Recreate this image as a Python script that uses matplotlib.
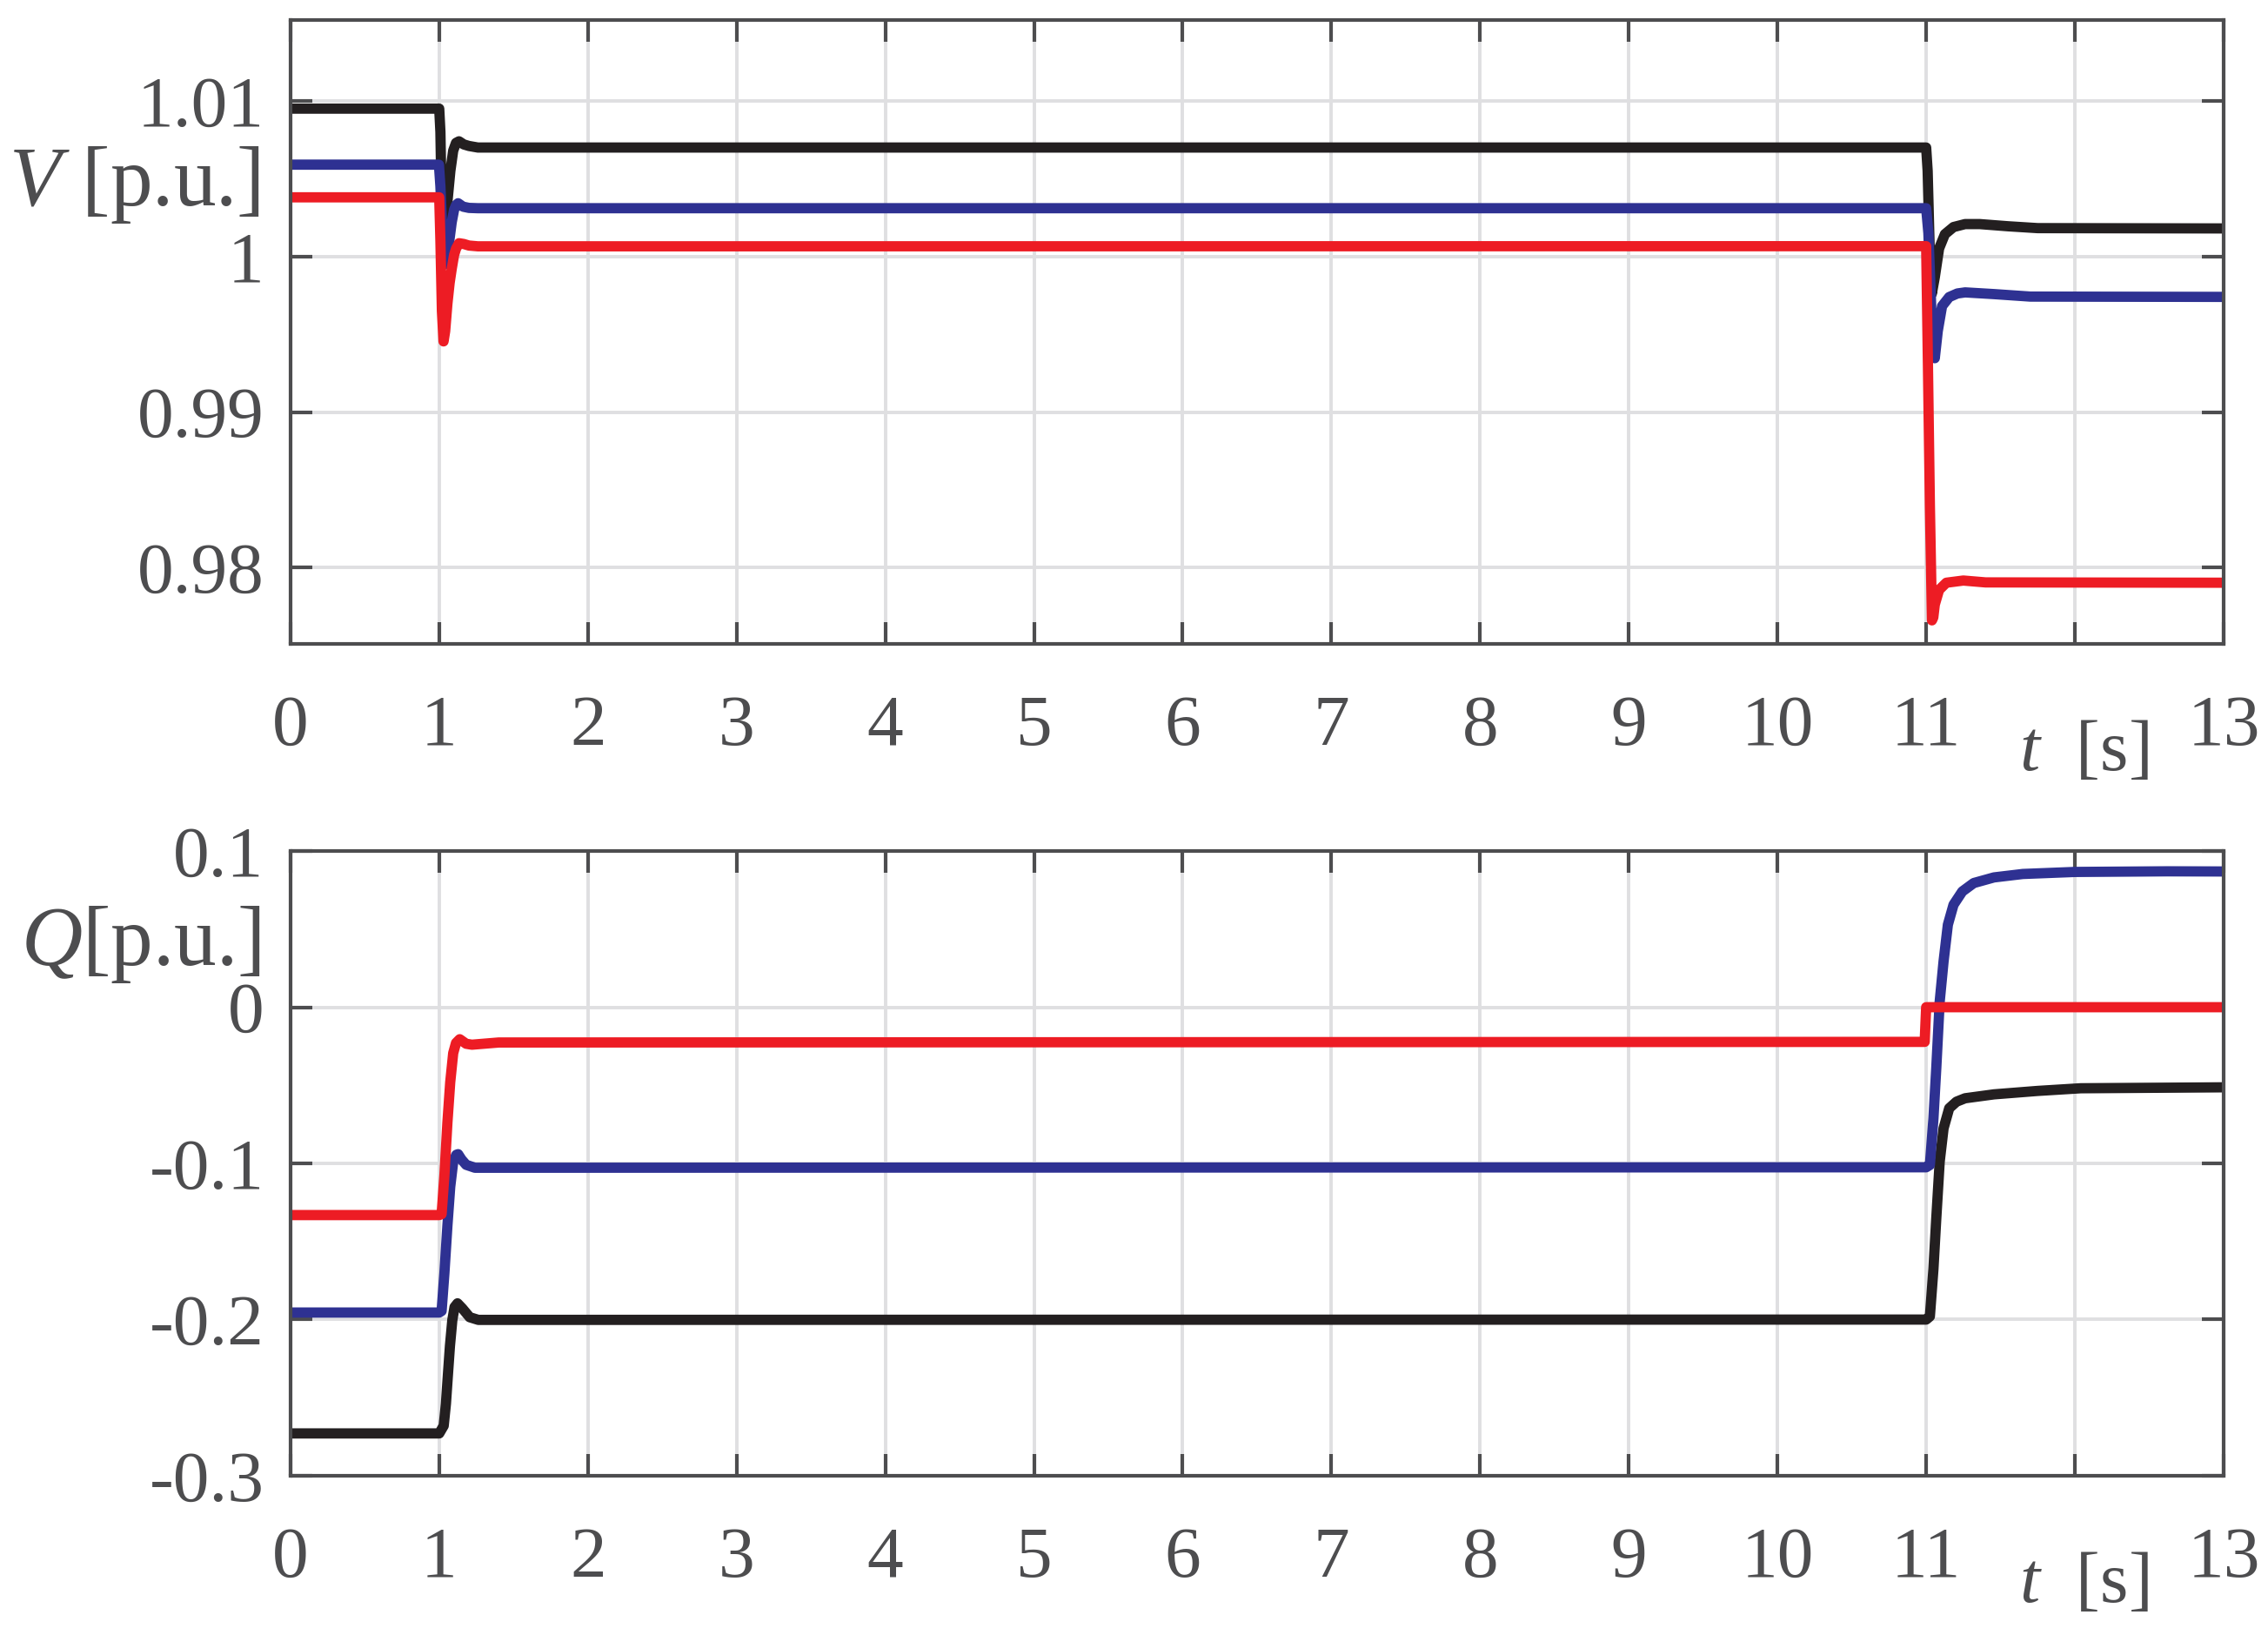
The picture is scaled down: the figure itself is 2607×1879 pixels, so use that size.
import matplotlib
matplotlib.use("Agg")
import matplotlib.pyplot as plt

plt.rcParams['font.family'] = ['Liberation Serif', 'DejaVu Serif']
plt.rcParams['mathtext.fontset'] = 'custom'
plt.rcParams['mathtext.rm'] = 'Liberation Serif'
plt.rcParams['mathtext.it'] = 'Liberation Serif:italic'
plt.rcParams['axes.unicode_minus'] = False

# Voltage traces
t_v_black = [0, 1.0, 1.008, 1.016, 1.024, 1.035, 1.055, 1.075, 1.094, 1.113, 1.133,
             1.165, 1.2, 1.26, 11.0, 11.01, 11.025, 11.038, 11.058, 11.087, 11.126,
             11.184, 11.262, 11.36, 11.55, 11.75, 13]
v_black = [1.0095, 1.0095, 1.0080, 1.0035, 1.0004, 1.0012, 1.0035, 1.0055, 1.0068,
           1.0073, 1.0074, 1.0072, 1.0071, 1.0070, 1.0070, 1.0055, 1.0000, 0.9976,
           0.99866, 1.00051, 1.00143, 1.00189, 1.00208, 1.00208, 1.00194, 1.00182, 1.0018]

t_v_blue = [0, 0.998, 1.008, 1.02, 1.035, 1.048, 1.065, 1.084, 1.10, 1.113, 1.127,
            1.16, 1.2, 1.26, 11.0, 11.015, 11.035, 11.058, 11.078, 11.107, 11.155,
            11.21, 11.262, 11.456, 11.7, 13]
v_blue = [1.0059, 1.0059, 1.0045, 1.0018, 0.9999, 0.9995, 1.0008, 1.0022, 1.0030,
          1.0033, 1.00342, 1.0032, 1.00312, 1.0031, 1.0031, 1.0015, 0.9965, 0.99346,
          0.9952, 0.99681, 0.99739, 0.99762, 0.99769, 0.99758, 0.99742, 0.9974]

t_v_red = [0, 1.0, 1.008, 1.018, 1.029, 1.04, 1.055, 1.07, 1.084, 1.10, 1.113, 1.133,
           1.165, 1.2, 1.26, 11.0, 11.012, 11.025, 11.039, 11.048, 11.058, 11.087,
           11.136, 11.25, 11.4, 13]
v_red = [1.0038, 1.0038, 1.0010, 0.9965, 0.99454, 0.9952, 0.99696, 0.9983, 0.9992,
         1.0001, 1.0005, 1.00085, 1.0008, 1.0007, 1.00065, 1.00066, 0.9930, 0.9840,
         0.97661, 0.9768, 0.97762, 0.97857, 0.97903, 0.97917, 0.97905, 0.97903]

# Reactive power traces
t_q_black = [0, 1.0, 1.03, 1.045, 1.058, 1.072, 1.088, 1.103, 1.123, 1.156, 1.205,
             1.263, 11.0, 11.025, 11.049, 11.068, 11.091, 11.117, 11.155, 11.204,
             11.262, 11.456, 11.75, 12.04, 13]
q_black = [-0.2729, -0.2729, -0.268, -0.254, -0.236, -0.217, -0.2004, -0.192, -0.1896,
           -0.1929, -0.1985, -0.2002, -0.2000, -0.198, -0.1675, -0.1353, -0.0989,
           -0.0776, -0.0647, -0.0605, -0.0583, -0.0558, -0.0536, -0.0519, -0.0513]

t_q_blue = [0, 1.0, 1.016, 1.035, 1.055, 1.074, 1.094, 1.115, 1.127, 1.15, 1.181,
            1.24, 11.0, 11.025, 11.049, 11.068, 11.091, 11.117, 11.146, 11.184,
            11.243, 11.32, 11.456, 11.65, 12.0, 12.62, 13]
q_blue = [-0.1955, -0.1955, -0.1945, -0.170, -0.140, -0.115, -0.099, -0.0945, -0.0941,
          -0.0975, -0.1009, -0.1028, -0.1025, -0.101, -0.0712, -0.0391, 0.0036, 0.0293,
          0.0528, 0.0656, 0.0741, 0.0795, 0.0831, 0.0853, 0.0866, 0.0870, 0.0869]

t_q_red = [0, 1.0, 1.016, 1.021, 1.035, 1.055, 1.074, 1.094, 1.113, 1.138, 1.181,
           1.22, 1.40, 10.99, 11.0, 13]
q_red = [-0.1331, -0.1331, -0.1325, -0.126, -0.1074, -0.074, -0.048, -0.0294, -0.0229,
         -0.0205, -0.0234, -0.0240, -0.0226, -0.0222, 0.0, 0.0]

x_ticks = list(range(0, 14))
x_labels = [str(i) for i in range(0, 12)] + ['', '13']
v_ticks = [0.98, 0.99, 1.0, 1.01]
v_labels = ['0.98', '0.99', '1', '1.01']
q_ticks = [-0.3, -0.2, -0.1, 0.0, 0.1]
q_labels = ['-0.3', '-0.2', '-0.1', '0', '0.1']

c_black = '#231f20'
c_blue = '#2e3192'
c_red = '#ed1c24'
c_axis = '#4d4d4f'
fs = 60
lw = 8.5

fig = plt.figure(figsize=(26.07, 18.79), dpi=100)
ax1 = fig.add_axes([0.1281, 0.6062, 0.8523, 0.3816])
ax2 = fig.add_axes([0.1281, 0.0974, 0.8523, 0.3821])


def style(ax, yt, yl, ylim, ylab, ylab_y):
    ax.set_xlim(0, 13)
    ax.set_ylim(*ylim)
    ax.set_xticks(x_ticks)
    ax.set_xticklabels(x_labels)
    ax.set_yticks(yt)
    ax.set_yticklabels(yl)
    ax.grid(True, color='#dfdfe1', linewidth=2.8)
    ax.set_axisbelow(True)
    for s in ax.spines.values():
        s.set_color(c_axis)
        s.set_linewidth(3)
    ax.tick_params(direction='in', length=18, width=3, color=c_axis,
                   labelcolor=c_axis, labelsize=fs, top=True, right=True)
    ax.tick_params(axis='x', pad=42)
    ax.tick_params(axis='y', pad=22)
    ax.text(-0.0155, ylab_y, ylab, transform=ax.transAxes, ha='right', va='center',
            fontsize=70, color=c_axis)
    ax.text(0.9276, -0.175, r'$t$  [s]', transform=ax.transAxes, ha='center',
            va='center', fontsize=fs, color=c_axis)


ax1.plot(t_v_black, v_black, color=c_black, lw=lw, solid_joinstyle='round')
ax1.plot(t_v_blue, v_blue, color=c_blue, lw=lw, solid_joinstyle='round')
ax1.plot(t_v_red, v_red, color=c_red, lw=lw, solid_joinstyle='round')
style(ax1, v_ticks, v_labels, (0.9751, 1.0152), r'$V$ [p.u.]', 0.735)

ax2.plot(t_q_black, q_black, color=c_black, lw=lw, solid_joinstyle='round')
ax2.plot(t_q_blue, q_blue, color=c_blue, lw=lw, solid_joinstyle='round')
ax2.plot(t_q_red, q_red, color=c_red, lw=lw, solid_joinstyle='round')
style(ax2, q_ticks, q_labels, (-0.3, 0.1), r'$Q$[p.u.]', 0.85)

fig.savefig('out.png', dpi=100)
